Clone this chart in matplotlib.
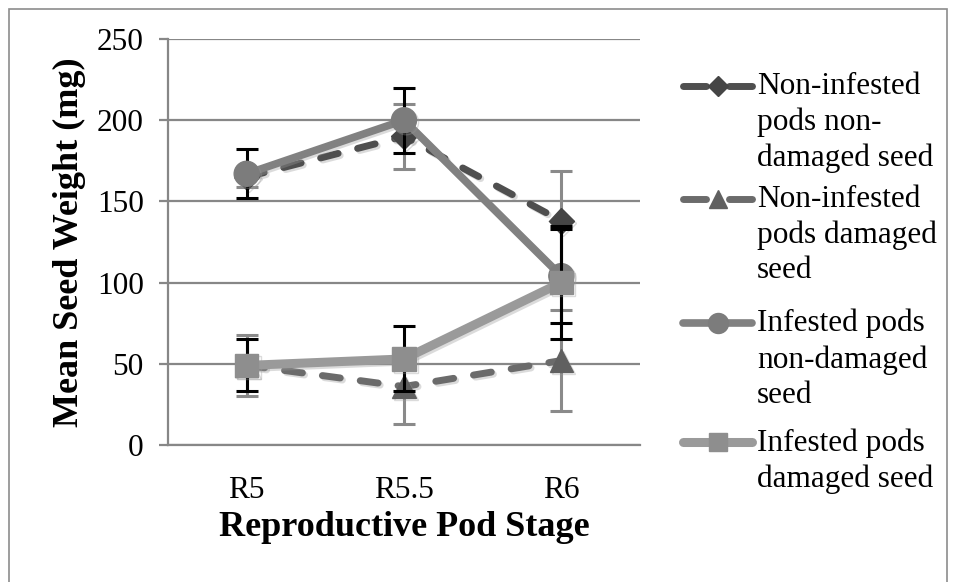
import matplotlib
matplotlib.use("Agg")
import matplotlib.pyplot as plt
import matplotlib.patheffects as pe
from matplotlib.lines import Line2D
from matplotlib.patches import Rectangle

plt.rcParams['font.family'] = ['Liberation Serif', 'DejaVu Serif']

# data
stages = ['R5', 'R5.5', 'R6']
ni_nd = [165, 190, 138]     # non-infested pods, non-damaged seed
ni_nd_err = [6, 20, 31]
ni_d = [49, 36, 52]         # non-infested pods, damaged seed
ni_d_err = [19, 23, 31]
inf_nd = [167, 200, 104]    # infested pods, non-damaged seed
inf_nd_err = [15, 20, 29]
inf_d = [49, 53, 100]       # infested pods, damaged seed
inf_d_err = [16, 20, 35]

labels = ['Non-infested\npods non-\ndamaged seed',
          'Non-infested\npods damaged\nseed',
          'Infested pods\nnon-damaged\nseed',
          'Infested pods\ndamaged seed']

W, H = 956, 582
fig = plt.figure(figsize=(W / 100, H / 100), dpi=100)
ax = fig.add_axes([168 / W, 1 - 445 / H, 472 / W, 406 / H])

x = list(range(len(stages)))
grid_c = '#878787'
shadow = [pe.SimpleLineShadow(offset=(1.5, -1.5), shadow_color='#9a9a9a', alpha=0.35),
          pe.Normal()]

series = [
    # values, errors, line colour, marker, marker colour, style, lw, err colour, msize
    (ni_nd, ni_nd_err, '#4f4f4f', 'D', '#454545', 'dash', 5.0, '#8a8a8a', 13),
    (ni_d, ni_d_err, '#6b6b6b', '^', '#606060', 'dash', 5.0, '#8a8a8a', 17),
    (inf_nd, inf_nd_err, '#818181', 'o', '#7c7c7c', 'solid', 5.5, '#000000', 18),
    (inf_d, inf_d_err, '#9a9a9a', 's', '#8e8e8e', 'solid', 6.5, '#000000', 17),
]

for k, (vals, err, lc, mk, mc, style, lw, ec, ms) in enumerate(series):
    ax.errorbar(x, vals, yerr=err, fmt='none', ecolor=ec, elinewidth=2.2,
                capsize=8, capthick=2.2, zorder=3 + k)
    line, = ax.plot(x, vals, color=lc, lw=lw, marker=mk, markersize=ms,
                    markerfacecolor=mc, markeredgecolor=mc,
                    solid_capstyle='round', dash_capstyle='round', zorder=3 + k,
                    path_effects=shadow)
    if style == 'dash':
        line.set_dashes((2.6, 2.9))

ax.set_xlim(-0.5, 2.5)
ax.set_ylim(0, 250)
ax.set_yticks(range(0, 251, 50))
ax.set_xticks(x)
ax.set_xticklabels(stages)
ax.yaxis.grid(True, color=grid_c, lw=1.6)
ax.set_axisbelow(True)
for s in ['top', 'right']:
    ax.spines[s].set_visible(False)
for s in ['left', 'bottom']:
    ax.spines[s].set_color(grid_c)
    ax.spines[s].set_linewidth(1.6)
ax.tick_params(axis='y', length=6.5, width=1.6, color=grid_c, pad=11, labelsize=22.5)
ax.tick_params(axis='x', length=0, pad=22, labelsize=22.5)

ax.set_xlabel('Reproductive Pod Stage', fontsize=26, fontweight='bold', labelpad=5)
ax.set_ylabel('Mean Seed Weight (mg)', fontsize=26, fontweight='bold', labelpad=8)

# legend drawn by hand so the key lines up with the first text line
leg_y = [86, 199, 323, 442]
for k, (vals, err, lc, mk, mc, style, lw, ec, ms) in enumerate(series):
    yy = 1 - leg_y[k] / H
    if style == 'dash':
        segs = [(683, 706), (729, 752)]
    else:
        segs = [(683, 752)]
    for a, b in segs:
        fig.add_artist(Line2D([a / W, b / W], [yy, yy], transform=fig.transFigure,
                              color=lc, lw=lw, solid_capstyle='round'))
    fig.add_artist(Line2D([717.5 / W], [yy], transform=fig.transFigure,
                          marker=mk, markersize=ms * 0.8, color=mc, lw=0))
    fig.text(757 / W, 1 - (leg_y[k] - 14) / H, labels[k], fontsize=22.5,
             va='top', linespacing=1.29)

# chart area border
fig.add_artist(Rectangle((9 / W, -0.02), 938 / W, 1 - 9 / H + 0.02,
                         transform=fig.transFigure, fill=False,
                         edgecolor='#8c8c8c', lw=1.2))

fig.savefig('out.png', dpi=100)
